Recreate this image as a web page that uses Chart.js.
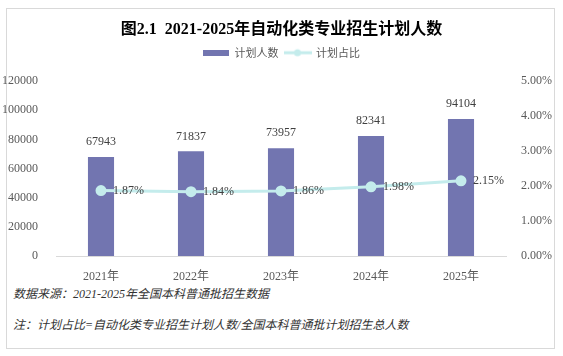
<!DOCTYPE html>
<html><head><meta charset="utf-8">
<script src="https://cdn.jsdelivr.net/npm/chart.js@4/dist/chart.umd.min.js"></script>
<style>
html,body{margin:0;padding:0;background:#fff;width:563px;height:356px;overflow:hidden;}
#frame{position:absolute;left:6px;top:8px;width:547px;height:339px;border:1px solid #d9d9d9;}
#wrap{position:absolute;left:0;top:0;width:563px;height:284px;}
.note{position:absolute;left:13px;font:italic 12px "Liberation Serif","Noto Sans CJK SC",serif;color:#333;line-height:14px;white-space:nowrap;}
</style></head><body>
<div id="frame"></div>
<div id="wrap"><canvas id="c" width="563" height="284"></canvas></div>
<div class="note" style="top:287px">数据来源：2021-2025年全国本科普通批招生数据</div>
<div class="note" style="top:318px">注：计划占比=自动化类专业招生计划人数/全国本科普通批计划招生总人数</div>
<script>
const categories = ['2021年','2022年','2023年','2024年','2025年'];
const planCounts = [67943, 71837, 73957, 82341, 94104];
const planShare = [1.87, 1.84, 1.86, 1.98, 2.15];
const leftTicks = ['0','20000','40000','60000','80000','100000','120000'];
const rightTicks = ['0.00%','1.00%','2.00%','3.00%','4.00%','5.00%'];
const seriesNames = ['计划人数','计划占比'];

const BAR = '#7275b0', LINE = '#c4ecec';
const SERIF = '"Liberation Serif","Noto Sans CJK SC",serif';

function patchBar(){const c=document.createElement('canvas');c.width=26;c.height=6;const x=c.getContext('2d');x.fillStyle=BAR;x.fillRect(0,0,26,6);return c;}
function patchLine(){const c=document.createElement('canvas');c.width=28;c.height=10;const x=c.getContext('2d');x.strokeStyle=LINE;x.lineWidth=3;x.beginPath();x.moveTo(0,5);x.lineTo(28,5);x.stroke();x.fillStyle=LINE;x.beginPath();x.arc(14,5,3.5,0,Math.PI*2);x.fill();return c;}
const patches=[patchBar(),patchLine()];

const spacerPlugin={id:'spacer',beforeInit(chart){
  const box={position:'top',weight:500,fullSize:true,options:{},
    isHorizontal(){return true;},
    update(w,h){this.width=w;this.height=13;return {width:w,height:13};},
    draw(){}};
  Chart.layouts.addBox(chart,box);
}};

const labelPlugin={id:'vals',afterDatasetsDraw(chart){
  const ctx=chart.ctx;ctx.save();
  ctx.font='12px '+SERIF;ctx.fillStyle='#404040';
  const mb=chart.getDatasetMeta(0);
  ctx.textAlign='center';ctx.textBaseline='middle';
  mb.data.forEach((el,i)=>{ctx.fillText(String(planCounts[i]),el.x,el.y-15);});
  const ml=chart.getDatasetMeta(1);
  ctx.textAlign='left';
  ml.data.forEach((el,i)=>{ctx.fillText(planShare[i].toFixed(2)+'%',el.x+12,el.y);});
  ctx.restore();
}};

new Chart(document.getElementById('c'),{
  data:{labels:categories,datasets:[
    {type:'bar',label:seriesNames[0],data:planCounts,backgroundColor:BAR,yAxisID:'y',order:2,categoryPercentage:1,barPercentage:0.29},
    {type:'line',label:seriesNames[1],data:planShare,borderColor:LINE,backgroundColor:LINE,borderWidth:3,pointRadius:4,pointHoverRadius:4,pointBackgroundColor:LINE,pointBorderColor:LINE,yAxisID:'y1',order:1,tension:0}
  ]},
  options:{
    responsive:false,animation:false,
    layout:{padding:0},
    plugins:{
      title:{display:true,text:'图2.1  2021-2025年自动化类专业招生计划人数',color:'#000',font:{family:SERIF,size:16,weight:'bold'},padding:{top:20,bottom:2}},
      legend:{display:true,labels:{usePointStyle:true,pointStyleWidth:26,padding:6,color:'#595959',font:{family:'"Noto Sans CJK SC",sans-serif',size:11},
        sort:(a,b)=>a.datasetIndex-b.datasetIndex,
        generateLabels(chart){const items=Chart.defaults.plugins.legend.labels.generateLabels(chart);items.forEach(it=>{it.pointStyle=patches[it.datasetIndex];});return items;}}},
      tooltip:{enabled:false}
    },
    scales:{
      x:{grid:{display:false},border:{display:true,color:'#d9d9d9',width:1},ticks:{color:'#595959',padding:6,font:{family:SERIF,size:12}},afterFit(s){s.height=28;}},
      y:{position:'left',min:0,max:120000,grid:{display:false},border:{display:false},
        ticks:{stepSize:20000,padding:10,color:'#595959',font:{family:SERIF,size:12},callback:(v,i)=>leftTicks[i]},afterFit(s){s.width=56;}},
      y1:{position:'right',min:0,max:5,grid:{display:false},border:{display:false},
        ticks:{stepSize:1,padding:7,color:'#595959',font:{family:SERIF,size:12},callback:(v,i)=>rightTicks[i]},afterFit(s){s.width=57;}}
    }
  },
  plugins:[spacerPlugin,labelPlugin]
});
</script>
</body></html>
